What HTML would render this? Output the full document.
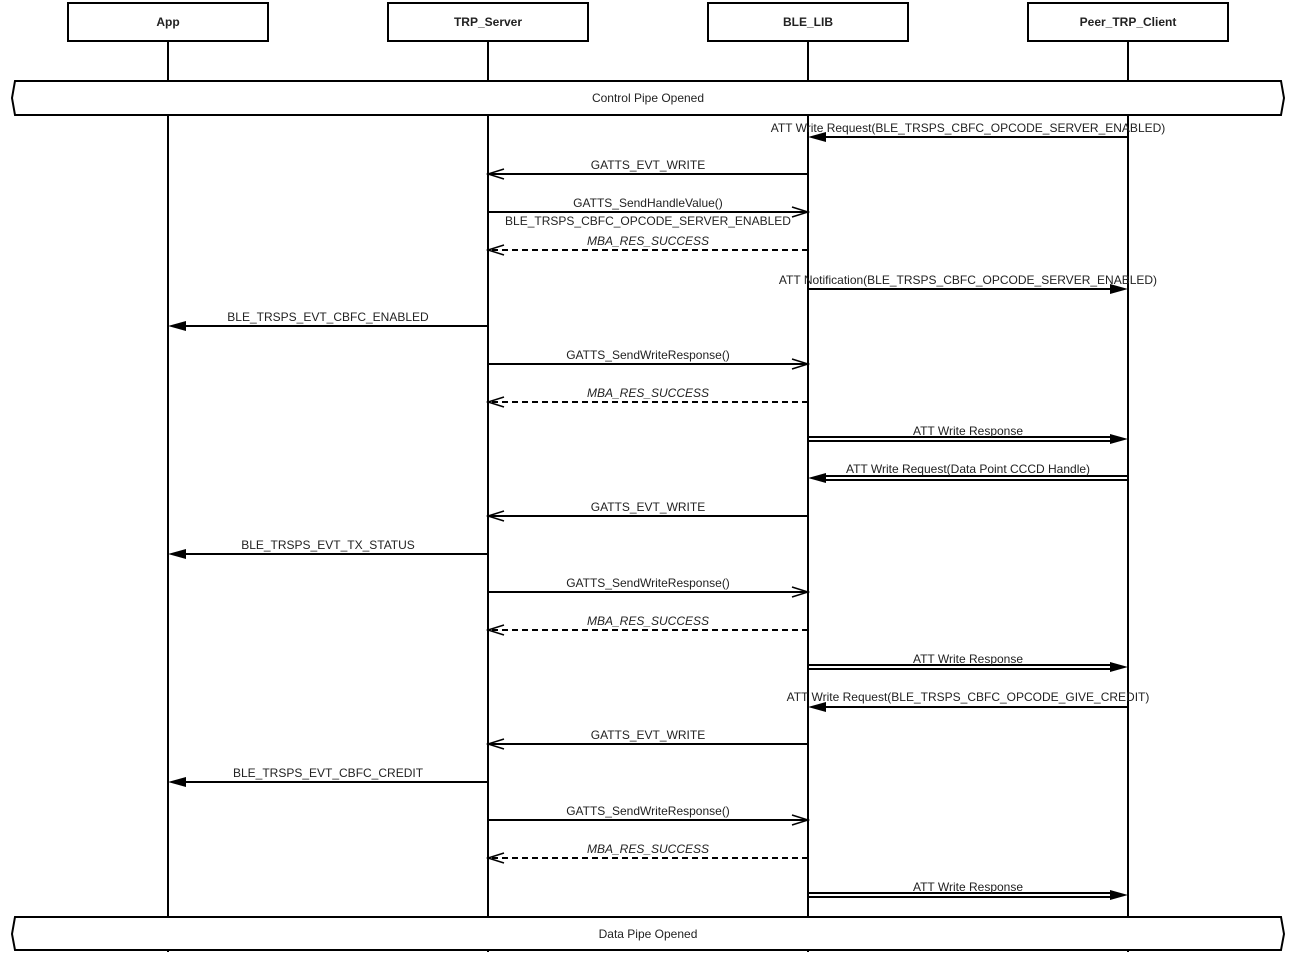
<!DOCTYPE html>
<html><head><meta charset="utf-8"><style>body{margin:0;background:#fff}svg{display:block}text{font-family:"Liberation Sans",sans-serif;font-size:12px;fill:#222}</style></head><body>
<svg width="1296" height="956" viewBox="0 0 1296 956" xmlns="http://www.w3.org/2000/svg">
<defs>
<marker id="o" markerWidth="20" markerHeight="12" refX="18" refY="6" orient="auto" markerUnits="userSpaceOnUse"><path d="M2,1 L18,6 L2,11" fill="none" stroke="#000" stroke-width="1.5"/></marker>
</defs>
<g stroke="#000" stroke-width="2" fill="#fff">
<line x1="168" y1="41" x2="168" y2="952"/><line x1="488" y1="41" x2="488" y2="952"/><line x1="808" y1="41" x2="808" y2="952"/><line x1="1128" y1="41" x2="1128" y2="952"/>
<rect x="68" y="3" width="200" height="38"/><rect x="388" y="3" width="200" height="38"/><rect x="708" y="3" width="200" height="38"/><rect x="1028" y="3" width="200" height="38"/>
<path d="M15,81 L1281,81 L1284,98 L1281,115 L15,115 L12,98 Z"/>
<path d="M15,917 L1281,917 L1284,934 L1281,950 L15,950 L12,934 Z"/>
</g>
<g text-anchor="middle">
<text x="168" y="26" font-weight="bold">App</text><text x="488" y="26" font-weight="bold">TRP_Server</text><text x="808" y="26" font-weight="bold">BLE_LIB</text><text x="1128" y="26" font-weight="bold">Peer_TRP_Client</text>
<text x="648" y="102">Control Pipe Opened</text><text x="648" y="938">Data Pipe Opened</text>
</g>
<g stroke="#000" stroke-width="2" fill="none">
<line x1="1128" y1="137" x2="812" y2="137"/>
<line x1="808" y1="174" x2="488" y2="174" marker-end="url(#o)"/>
<line x1="488" y1="212" x2="808" y2="212" marker-end="url(#o)"/>
<line x1="808" y1="250" x2="488" y2="250" stroke-dasharray="6,4" marker-end="url(#o)"/>
<line x1="808" y1="289" x2="1124" y2="289"/>
<line x1="488" y1="326" x2="172" y2="326"/>
<line x1="488" y1="364" x2="808" y2="364" marker-end="url(#o)"/>
<line x1="808" y1="402" x2="488" y2="402" stroke-dasharray="6,4" marker-end="url(#o)"/>
<line x1="808" y1="437" x2="1112" y2="437"/><line x1="808" y1="441" x2="1112" y2="441"/>
<line x1="1128" y1="476" x2="824" y2="476"/><line x1="1128" y1="480" x2="824" y2="480"/>
<line x1="808" y1="516" x2="488" y2="516" marker-end="url(#o)"/>
<line x1="488" y1="554" x2="172" y2="554"/>
<line x1="488" y1="592" x2="808" y2="592" marker-end="url(#o)"/>
<line x1="808" y1="630" x2="488" y2="630" stroke-dasharray="6,4" marker-end="url(#o)"/>
<line x1="808" y1="665" x2="1112" y2="665"/><line x1="808" y1="669" x2="1112" y2="669"/>
<line x1="1128" y1="707" x2="812" y2="707"/>
<line x1="808" y1="744" x2="488" y2="744" marker-end="url(#o)"/>
<line x1="488" y1="782" x2="172" y2="782"/>
<line x1="488" y1="820" x2="808" y2="820" marker-end="url(#o)"/>
<line x1="808" y1="858" x2="488" y2="858" stroke-dasharray="6,4" marker-end="url(#o)"/>
<line x1="808" y1="893" x2="1112" y2="893"/><line x1="808" y1="897" x2="1112" y2="897"/>
</g>
<g fill="#000">
<path d="M808,137 L826,132 L826,142 Z"/>
<path d="M1128,289 L1110,284 L1110,294 Z"/>
<path d="M168,326 L186,321 L186,331 Z"/>
<path d="M1128,439 L1110,434 L1110,444 Z"/>
<path d="M808,478 L826,473 L826,483 Z"/>
<path d="M168,554 L186,549 L186,559 Z"/>
<path d="M1128,667 L1110,662 L1110,672 Z"/>
<path d="M808,707 L826,702 L826,712 Z"/>
<path d="M168,782 L186,777 L186,787 Z"/>
<path d="M1128,895 L1110,890 L1110,900 Z"/>
</g>
<g text-anchor="middle">
<text x="968" y="132">ATT Write Request(BLE_TRSPS_CBFC_OPCODE_SERVER_ENABLED)</text>
<text x="648" y="169">GATTS_EVT_WRITE</text>
<text x="648" y="207">GATTS_SendHandleValue()</text>
<text x="648" y="225">BLE_TRSPS_CBFC_OPCODE_SERVER_ENABLED</text>
<text x="648" y="245" font-style="italic">MBA_RES_SUCCESS</text>
<text x="968" y="284">ATT Notification(BLE_TRSPS_CBFC_OPCODE_SERVER_ENABLED)</text>
<text x="328" y="321">BLE_TRSPS_EVT_CBFC_ENABLED</text>
<text x="648" y="359">GATTS_SendWriteResponse()</text>
<text x="648" y="397" font-style="italic">MBA_RES_SUCCESS</text>
<text x="968" y="435">ATT Write Response</text>
<text x="968" y="473">ATT Write Request(Data Point CCCD Handle)</text>
<text x="648" y="511">GATTS_EVT_WRITE</text>
<text x="328" y="549">BLE_TRSPS_EVT_TX_STATUS</text>
<text x="648" y="587">GATTS_SendWriteResponse()</text>
<text x="648" y="625" font-style="italic">MBA_RES_SUCCESS</text>
<text x="968" y="663">ATT Write Response</text>
<text x="968" y="701">ATT Write Request(BLE_TRSPS_CBFC_OPCODE_GIVE_CREDIT)</text>
<text x="648" y="739">GATTS_EVT_WRITE</text>
<text x="328" y="777">BLE_TRSPS_EVT_CBFC_CREDIT</text>
<text x="648" y="815">GATTS_SendWriteResponse()</text>
<text x="648" y="853" font-style="italic">MBA_RES_SUCCESS</text>
<text x="968" y="891">ATT Write Response</text>
</g>
</svg>
</body></html>
